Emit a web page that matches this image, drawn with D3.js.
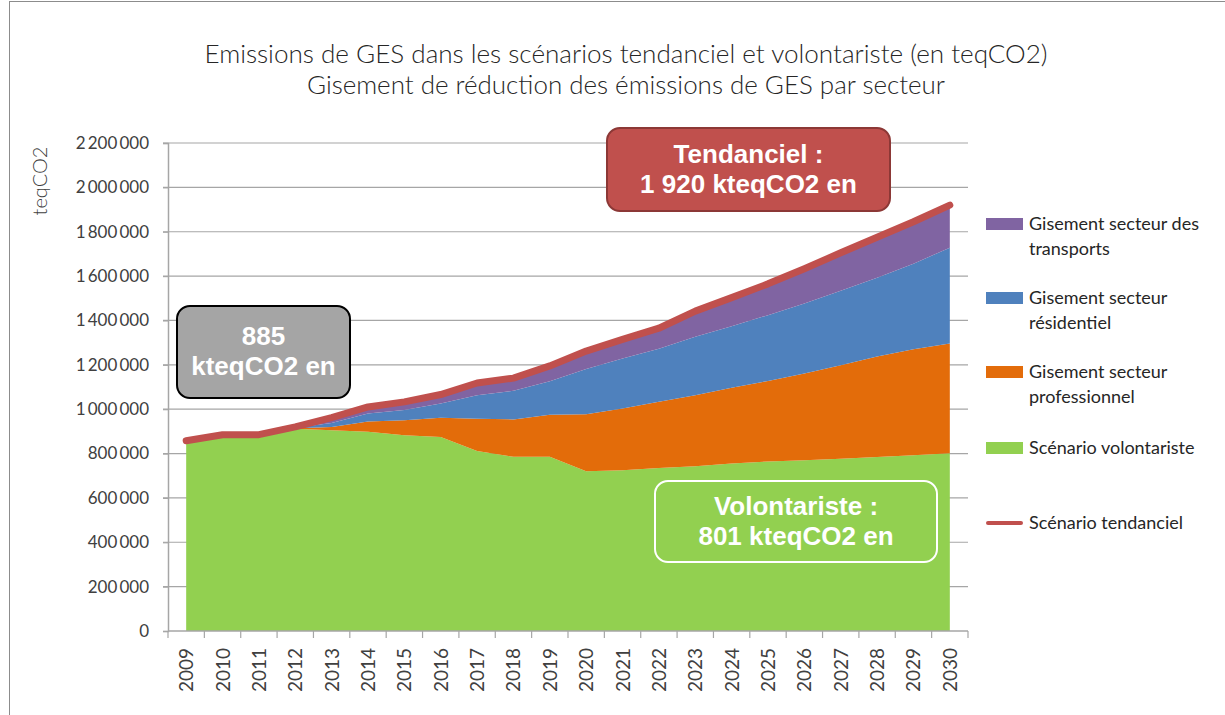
<!DOCTYPE html>
<html>
<head>
<meta charset="utf-8">
<script src="https://cdn.jsdelivr.net/npm/d3@7"></script>
<style>
  html, body { margin: 0; padding: 0; background: #fff; }
  svg { display: block; font-family: Lato, "Open Sans", sans-serif; }
</style>
</head>
<body>
<svg id="chart" width="1225" height="715"></svg>
<script>
// Années
const years = [2009, 2010, 2011, 2012, 2013, 2014, 2015, 2016, 2017, 2018, 2019,
               2020, 2021, 2022, 2023, 2024, 2025, 2026, 2027, 2028, 2029, 2030];

// Scénario volontariste (teqCO2)
const volontariste = [858000, 885000, 885000, 912000, 905000, 898000, 883000, 875000, 812000, 785000, 785000,
                      720000, 725000, 735000, 743000, 755000, 764000, 770000, 777000, 784000, 792000, 801000];
// Gisement secteur professionnel
const professionnel = [0, 0, 0, 2000, 15000, 46000, 67000, 86000, 145000, 169000, 190000,
                       257000, 278000, 298000, 320000, 342000, 363000, 391000, 421000, 454000, 478000, 495000];
// Gisement secteur résidentiel
const residentiel = [0, 0, 0, 2000, 18000, 37000, 46000, 65000, 106000, 129000, 151000,
                     204000, 226000, 240000, 263000, 277000, 297000, 315000, 336000, 355000, 386000, 432000];
// Gisement secteur des transports
const transports = [0, 0, 0, 4000, 24000, 29000, 37000, 40000, 55000, 57000, 69000,
                    81000, 86000, 92000, 116000, 129000, 141000, 157000, 171000, 182000, 189000, 192000];
// Scénario tendanciel
const tendanciel = [858000, 885000, 885000, 920000, 962000, 1010000, 1033000, 1066000, 1118000, 1140000, 1195000,
                    1262000, 1315000, 1365000, 1442000, 1503000, 1565000, 1633000, 1705000, 1775000, 1845000, 1920000];

const yTicks = [0, 200000, 400000, 600000, 800000, 1000000, 1200000, 1400000, 1600000, 1800000, 2000000, 2200000];

const titleLines = [
  "Emissions de GES dans les scénarios tendanciel et volontariste (en teqCO2)",
  "Gisement de réduction des émissions de GES par secteur"
];

const layerKeys = ["volontariste", "professionnel", "residentiel", "transports"];
const layerColors = {
  volontariste: "#92d050",
  professionnel: "#e36c0a",
  residentiel: "#4f81bd",
  transports: "#8064a2"
};
const lineColor = "#c0504d";

const legendItems = [
  { key: "transports", lines: ["Gisement secteur des", "transports"] },
  { key: "residentiel", lines: ["Gisement secteur", "résidentiel"] },
  { key: "professionnel", lines: ["Gisement secteur", "professionnel"] },
  { key: "volontariste", lines: ["Scénario volontariste"] },
  { key: "tendanciel", lines: ["Scénario tendanciel"] }
];

// ---- build table for the stack
const table = years.map((yr, i) => ({
  year: yr,
  volontariste: volontariste[i],
  professionnel: professionnel[i],
  residentiel: residentiel[i],
  transports: transports[i]
}));

const svg = d3.select("#chart");
const textColor = "#262626";

// chart frame
svg.append("rect")
  .attr("x", 9.5).attr("y", 1.5)
  .attr("width", 1240).attr("height", 740)
  .attr("fill", "none").attr("stroke", "#8c8c8c").attr("stroke-width", 1);

const plot = { left: 168, right: 968, top: 143, bottom: 631 };

const x = d3.scaleBand().domain(years).range([plot.left, plot.right]).padding(0);
const y = d3.scaleLinear().domain([0, 2200000]).range([plot.bottom, plot.top]);
const cx = yr => x(yr) + x.bandwidth() / 2;

// gridlines
svg.append("g")
  .selectAll("line")
  .data(yTicks.filter(v => v > 0))
  .join("line")
  .attr("x1", plot.left - 5).attr("x2", plot.right)
  .attr("y1", d => y(d)).attr("y2", d => y(d))
  .attr("stroke", "#a6a6a6").attr("stroke-width", 1.2);

// stacked areas
const stack = d3.stack().keys(layerKeys);
const series = stack(table);
const area = d3.area()
  .x(d => cx(d.data.year))
  .y0(d => y(d[0]))
  .y1(d => y(d[1]));

svg.append("g")
  .selectAll("path")
  .data(series)
  .join("path")
  .attr("d", area)
  .attr("fill", d => layerColors[d.key])
  .attr("stroke", "none");

// tendanciel line
const line = d3.line().x((d, i) => cx(years[i])).y(d => y(d));
svg.append("path")
  .datum(tendanciel)
  .attr("d", line)
  .attr("fill", "none")
  .attr("stroke", lineColor)
  .attr("stroke-width", 7)
  .attr("stroke-linecap", "round")
  .attr("stroke-linejoin", "round");

// y axis
const fmt = v => d3.format(",")(v).replace(/,/g, "\u2009");
const yAxis = d3.axisLeft(y).tickValues(yTicks).tickSize(5).tickPadding(14).tickFormat(fmt);
const gy = svg.append("g").attr("transform", `translate(${plot.left},0)`).call(yAxis);
gy.select(".domain").attr("stroke", "#a6a6a6").attr("stroke-width", 1.5);
gy.selectAll(".tick line").attr("stroke", "#a6a6a6").attr("stroke-width", 1.2);
gy.selectAll(".tick text")
  .attr("fill", "#404040")
  .style("font-size", "17px")
  .style("font-family", "Lato, sans-serif");

// x axis with ticks at band boundaries
const gx = svg.append("g").attr("transform", `translate(0,${plot.bottom})`);
gx.append("line")
  .attr("x1", plot.left).attr("x2", plot.right)
  .attr("stroke", "#a6a6a6").attr("stroke-width", 1.5);
gx.selectAll("line.tk")
  .data(years.concat([null]))
  .join("line")
  .attr("class", "tk")
  .attr("x1", (d, i) => plot.left + i * x.step())
  .attr("x2", (d, i) => plot.left + i * x.step())
  .attr("y1", 0).attr("y2", 7)
  .attr("stroke", "#a6a6a6").attr("stroke-width", 1.2);
gx.selectAll("text")
  .data(years)
  .join("text")
  .attr("transform", d => `translate(${cx(d) + 7},17) rotate(-90)`)
  .attr("text-anchor", "end")
  .attr("fill", "#404040")
  .style("font-size", "19px")
  .text(d => d);

// y axis title
svg.append("text")
  .attr("transform", "translate(47,181) rotate(-90)")
  .attr("text-anchor", "middle")
  .attr("fill", "#404040")
  .style("font-size", "20px")
  .style("font-weight", 300)
  .text("teqCO2");

// chart title
const titleWidths = [843, 638];
svg.append("g").selectAll("text")
  .data(titleLines)
  .join("text")
  .attr("x", 626)
  .attr("y", (d, i) => 63 + i * 31)
  .attr("text-anchor", "middle")
  .attr("fill", textColor)
  .attr("textLength", (d, i) => titleWidths[i])
  .attr("lengthAdjust", "spacingAndGlyphs")
  .style("font-size", "25px")
  .style("font-weight", 300)
  .text(d => d);

// legend
const lg = svg.append("g");
const rowY = [224, 298, 372, 448, 523];
legendItems.forEach((item, i) => {
  const g = lg.append("g").attr("transform", `translate(986,${rowY[i]})`);
  if (item.key === "tendanciel") {
    g.append("line")
      .attr("x1", 2).attr("x2", 35).attr("y1", 0).attr("y2", 0)
      .attr("stroke", lineColor).attr("stroke-width", 4).attr("stroke-linecap", "round");
  } else {
    g.append("rect")
      .attr("x", 0).attr("y", -6).attr("width", 37).attr("height", 12)
      .attr("fill", layerColors[item.key]);
  }
  item.lines.forEach((t, j) => {
    g.append("text")
      .attr("x", 43).attr("y", 6 + j * 25)
      .attr("fill", textColor)
      .style("font-size", "18px")
      .text(t);
  });
});

// annotation boxes
function callout(box) {
  const g = svg.append("g");
  g.append("rect")
    .attr("x", box.x).attr("y", box.y)
    .attr("width", box.w).attr("height", box.h)
    .attr("rx", 13).attr("ry", 13)
    .attr("fill", box.fill)
    .attr("stroke", box.stroke).attr("stroke-width", 2);
  box.lines.forEach((t, j) => {
    g.append("text")
      .attr("x", box.x + box.w / 2)
      .attr("y", box.base + j * 30)
      .attr("text-anchor", "middle")
      .attr("fill", "#fff")
      .style("font-family", "'Liberation Sans', Arial, sans-serif")
      .style("font-weight", "bold")
      .style("font-size", "26px")
      .text(t);
  });
}

const fmtK = v => d3.format(",")(Math.round(v / 1000)).replace(/,/g, " ");
const iStart = years.indexOf(2010);
const iEnd = years.length - 1;

callout({ x: 177, y: 306, w: 173, h: 92, fill: "#a5a5a5", stroke: "#000",
          base: 345, lines: [fmtK(tendanciel[iStart]), "kteqCO2 en"] });
callout({ x: 607, y: 128, w: 283, h: 83, fill: lineColor, stroke: "#8c3836",
          base: 163, lines: ["Tendanciel :", fmtK(tendanciel[iEnd]) + " kteqCO2 en"] });
callout({ x: 655, y: 481, w: 282, h: 81, fill: layerColors.volontariste, stroke: "#fff",
          base: 515, lines: ["Volontariste :", fmtK(volontariste[iEnd]) + " kteqCO2 en"] });
</script>
</body>
</html>
